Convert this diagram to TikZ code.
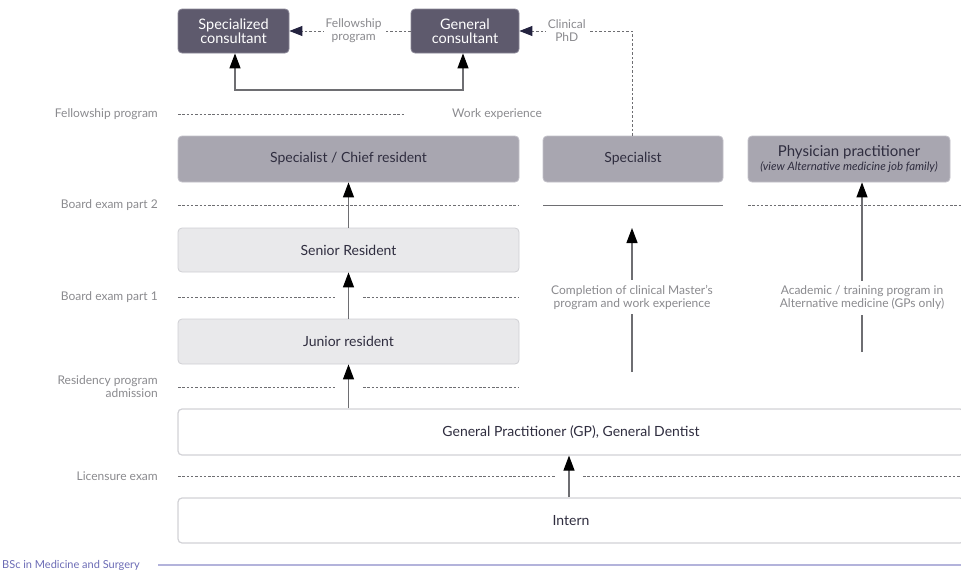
\documentclass[tikz,border=0pt]{standalone}
\usepackage{fontspec}
\setmainfont{Lato}
\usetikzlibrary{arrows.meta,calc}
\definecolor{darkfill}{HTML}{5E5A6D}
\definecolor{darkdraw}{HTML}{8A8797}
\definecolor{midfill}{HTML}{A8A6B0}
\definecolor{middraw}{HTML}{C2C0C8}
\definecolor{lightfill}{HTML}{E9E9EB}
\definecolor{lightdraw}{HTML}{CFCFD4}
\definecolor{whitedraw}{HTML}{D2D2D6}
\definecolor{textdark}{HTML}{2F2D3F}
\definecolor{sidegray}{HTML}{8A8A8E}
\definecolor{linegray}{HTML}{6E6E72}
\definecolor{navy}{HTML}{23223F}
\definecolor{bscpurple}{HTML}{6B6BB5}
\definecolor{bscline}{HTML}{B3B3DB}
\tikzset{
  box/.style={rectangle, rounded corners=4pt, align=center, inner sep=0pt, text=textdark,
    font=\fontsize{14}{16}\selectfont},
  darkbox/.style={box, fill=darkfill, draw=darkdraw, line width=0.8pt, text=white,
    font=\fontsize{14.5}{14}\selectfont},
  midbox/.style={box, fill=midfill, draw=middraw, line width=0.8pt},
  lightbox/.style={box, fill=lightfill, draw=lightdraw, line width=0.8pt},
  whitebox/.style={box, fill=white, draw=whitedraw, line width=1.2pt},
  sidelabel/.style={anchor=east, align=right, text=sidegray, inner sep=0pt,
    font=\fontsize{12}{13}\selectfont},
  midlabel/.style={align=center, text=sidegray, fill=white, inner sep=2pt,
    font=\fontsize{12}{13}\selectfont},
  level/.style={draw=linegray, line width=0.7pt, dash pattern=on 2.5pt off 1.8pt},
  tipk/.tip={Triangle[length=15pt,width=11pt,color=black]},
  tipn/.tip={Triangle[length=13pt,width=10pt,color=navy]},
  upar/.style={draw=linegray, line width=1.2pt, -tipk},
  bothar/.style={draw=linegray, line width=1.2pt, tipk-tipk},
  toparrow/.style={draw=linegray, line width=0.9pt, dash pattern=on 2.5pt off 2pt, -tipn},
}
\begin{document}
\begin{tikzpicture}[x=1pt,y=-1pt]
\useasboundingbox (0,0) rectangle (961,570);
\clip (0,0) rectangle (961,570);

% top boxes
\node[darkbox, minimum width=111pt, minimum height=44pt] (sc) at (233.5,31) {Specialized\\consultant};
\node[darkbox, minimum width=108pt, minimum height=44pt] (gc) at (465,31) {General\\consultant};

% level boxes
\node[midbox, minimum width=341pt, minimum height=46pt] (scr) at (348.5,159) {Specialist / Chief resident};
\node[midbox, minimum width=180pt, minimum height=46pt] (spec) at (633,159) {Specialist};
\node[midbox, minimum width=202pt, minimum height=46pt] (phys) at (849,159)
  {{\fontsize{15}{16}\selectfont Physician practitioner}\\[-2pt]{\fontsize{11.5}{12}\itshape\selectfont (view Alternative medicine job family)}};
\node[lightbox, minimum width=341pt, minimum height=44pt] (sr) at (348.5,250) {Senior Resident};
\node[lightbox, minimum width=341pt, minimum height=45pt] (jr) at (348.5,341.5) {Junior resident};
\node[whitebox, minimum width=786pt, minimum height=46pt] (gp) at (571,432) {General Practitioner (GP), General Dentist};
\node[whitebox, minimum width=786pt, minimum height=45pt] (intern) at (571,520.5) {Intern};

% side labels
\node[sidelabel] (l1) at (158,114) {Fellowship program};
\node[sidelabel] (l2) at (158,205) {Board exam part 2};
\node[sidelabel] (l3) at (158,297) {Board exam part 1};
\node[sidelabel] (l4) at (158,387) {Residency program\\admission};
\node[sidelabel] (l5) at (158,476) {Licensure exam};
\node[sidelabel, anchor=west, text=bscpurple, font=\fontsize{11}{12}\selectfont] (l6) at (2,565) {BSc in Medicine and Surgery};
\node[anchor=west, text=sidegray, inner sep=0pt, font=\fontsize{12}{13}\selectfont] (we) at (452,114) {Work experience};

% level lines
\draw[level] (178,114) -- (405,114);
\draw[level] (178,205) -- (519,205);
\draw[draw=linegray, line width=1pt] (543,205) -- (723,205);
\draw[level] (748,205) -- (961,205);
\draw[level] (178,297) -- (335,297);
\draw[level] (363,297) -- (519,297);
\draw[level] (178,387) -- (335,387);
\draw[level] (363,387) -- (519,387);
\draw[level] (178,476) -- (555,476);
\draw[level] (583,476) -- (961,476);
\draw[draw=bscline, line width=1.6pt] (158,565) -- (961,565);

% top connectors
\draw[toparrow] (gc.west) -- node[midlabel, pos=0.47] (fp) {Fellowship\\program} (sc.east);
\coordinate (phdx) at (632,0);
\draw[toparrow] (phdx |- spec.north) |- node[midlabel, pos=0.79] (phd) {Clinical\\PhD} (gc.east);
\coordinate (bl) at (235,90);
\coordinate (br) at (463,90);
\draw[bothar] (bl |- sc.south) -- (bl) -- (br) -- (br |- gc.south);

% vertical arrows
\draw[upar] (sr.north) -- (scr.south);
\draw[upar] (jr.north) -- (sr.south);
\draw[upar] (jr.south |- gp.north) -- (jr.south);
\coordinate (ix) at (569,0);
\draw[upar] (ix |- intern.north) -- (ix |- gp.south);

\coordinate (sb) at (632,372);
\coordinate (st) at (632,228);
\draw[upar] (sb) -- node[midlabel, inner sep=5pt, pos=0.52] (cm) {Completion of clinical Master's\\program and work experience} (st);
\coordinate (pb) at (862,352);
\draw[upar] (pb) -- node[midlabel, inner sep=5pt, pos=0.32] (ap) {Academic / training program in\\Alternative medicine (GPs only)} (pb |- phys.south);
\end{tikzpicture}
\end{document}
